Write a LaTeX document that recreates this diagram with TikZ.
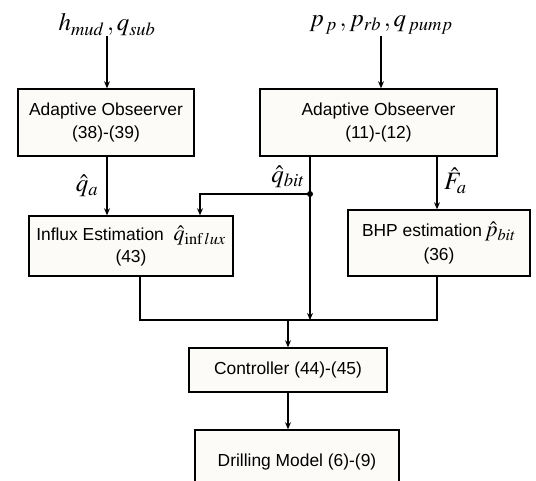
\documentclass[tikz,border=0pt]{standalone}
\usepackage{mathptmx}
\usepackage[no-math]{fontspec}
\setmainfont{Liberation Sans}
\usetikzlibrary{arrows.meta}
\definecolor{boxfill}{RGB}{252,251,248}
\tikzset{
  blk/.style={draw, line width=1.5pt, fill=boxfill, inner sep=0pt, align=center,
    font=\fontsize{17.4}{23}\selectfont},
  lbl/.style={inner sep=0pt, font=\fontsize{25}{28}\selectfont},
  wire/.style={line width=1.5pt},
  arr/.style={wire, -{Stealth[length=7pt,width=6pt]}},
}
\begin{document}
\begin{tikzpicture}[x=1pt,y=-1pt]
\clip (0,0) rectangle (536,481);
\fill[white] (0,0) rectangle (536,481);
% blocks
\node[blk, minimum width=176, minimum height=67] (ao1) at (106,122.5) {Adaptive Obseerver\\(38)-(39)};
\node[blk, minimum width=237, minimum height=67] (ao2) at (378.5,122.5) {Adaptive Obseerver\\(11)-(12)};
\node[blk, minimum width=204, minimum height=60] (infl) at (131,246) {Influx Estimation\ \ {\fontsize{22}{24}\selectfont$\hat{q}_{\mathrm{inf}\,lux}$}\\[-1pt](43)};
\node[blk, minimum width=182, minimum height=66] (bhp) at (439,243) {BHP estimation\,{\fontsize{22}{24}\selectfont$\hat{p}_{bit}$}\\[1pt](36)};
\node[blk, minimum width=198, minimum height=44] (ctrl) at (288,370) {Controller (44)-(45)};
\node[blk, minimum width=204, minimum height=64] (drill) at (297,462) {Drilling Model (6)-(9)};
% labels
\node[lbl] (inA) at (107,25) {$h_{mud}\,, q_{sub}$};
\node[lbl] (inB) at (381,25) {$p_{\,p}\,, p_{rb}\,, q_{\,pump}$};
\node[lbl] (qa) at (87,186) {$\hat{q}_{a}$};
\node[lbl, anchor=east] (qbit) at (305,177) {$\hat{q}_{bit}$};
\node[lbl, anchor=west] (fa) at (444,181) {$\hat{F}_{a}$};
% junction coordinates
\coordinate (j) at (310,194);
\coordinate (k) at (200,194);
\coordinate (mL) at (140,320);
\coordinate (mR) at (437,320);
\coordinate (mJ) at (310,320);
\coordinate (m) at (288,320);
% connectors
\draw[arr] (inA.south |- 0,36) -- (inA.south |- ao1.north);
\draw[arr] (inB.south |- 0,36) -- (inB.south |- ao2.north);
\draw[arr] (ao1.south -| inA.south) -- (inA.south |- infl.north);
\draw[wire] (j |- ao2.south) -- (j);
\draw[arr] (j) -- (k) -- (k |- infl.north);
\draw[arr] (j) -- (mJ);
\fill (j) circle (3);
\draw[arr] (mR |- ao2.south) -- (mR |- bhp.north);
\draw[wire] (mL |- infl.south) -- (mL) -- (mR) -- (mR |- bhp.south);
\draw[arr] (m) -- (m |- ctrl.north);
\draw[arr] (m |- ctrl.south) -- (m |- drill.north);
\end{tikzpicture}
\end{document}
